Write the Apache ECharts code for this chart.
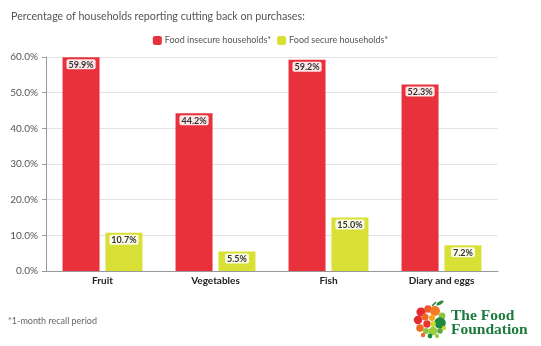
<!DOCTYPE html>
<html>
<head>
<meta charset="utf-8">
<script src="https://cdn.jsdelivr.net/npm/echarts@6/dist/echarts.min.js"></script>
<style>
  html, body { margin: 0; padding: 0; background: #fff; }
  #chart { width: 541px; height: 346px; }
</style>
</head>
<body>
<div id="chart"></div>
<script>
// Share of households cutting back on purchases, by food group
const categories = ['Fruit', 'Vegetables', 'Fish', 'Diary and eggs'];
const insecureValues = [59.9, 44.2, 59.2, 52.3];
const secureValues = [10.7, 5.5, 15.0, 7.2];
const seriesNames = ['Food insecure households*', 'Food secure households*'];
const yTicks = { min: 0, max: 60, interval: 10 };

const RED = '#E9313B';
const YELLOW = '#D9E035';
const FONT = 'Lato, "Noto Sans", sans-serif';

// apple-shaped logo built from dots: [x, y, r, colour]
const logoDots = [
  [-10, -8, 4.6, '#E42A2F'], [-3, -11, 3.8, '#EE5A2A'], [4, -9, 5, '#F47B26'],
  [11, -4, 3.4, '#8CC63F'], [-13, 0, 4.2, '#E42A2F'], [-6, -3, 3.6, '#F2662B'],
  [1, -2, 3, '#F7A21B'], [9, 3, 5.8, '#1E8A3D'], [-11, 8, 3.8, '#F26B21'],
  [-4, 4, 3.7, '#E8362F'], [2, 4, 2.8, '#C9D72E'], [-5, 11, 3, '#8CC63F'],
  [2, 11, 4.3, '#9CCB3B'], [9, 11, 2.8, '#5BAA46'], [-1, 16, 2.4, '#1E8A3D'],
  [6, 16, 2, '#8CC63F'], [-8, 15, 2.2, '#F26B21'], [13, 8, 2.2, '#C9D72E']
];

const labelStyle = {
  show: true,
  position: 'insideTop',
  distance: 2,
  formatter: p => p.value.toFixed(1) + '%',
  fontFamily: FONT,
  fontSize: 9,
  fontWeight: 'bold',
  color: '#333',
  backgroundColor: 'rgba(255,255,255,0.88)',
  borderRadius: 2,
  padding: [1, 2, 0, 2]
};

const chart = echarts.init(document.getElementById('chart'));
chart.setOption({
  animation: false,
  textStyle: { fontFamily: FONT },
  title: {
    text: 'Percentage of households reporting cutting back on purchases:',
    left: 6, top: 6,
    textStyle: { fontFamily: FONT, fontSize: 10.7, fontWeight: 'normal', color: '#555' }
  },
  legend: {
    data: seriesNames,
    top: 31, left: 'center',
    icon: 'roundRect',
    itemWidth: 9, itemHeight: 9, itemGap: 6,
    textStyle: { fontFamily: FONT, fontSize: 9, color: '#555', padding: [0, 0, 0, -2] }
  },
  grid: { left: 46, right: 43, top: 57, bottom: 75 },
  xAxis: {
    type: 'category',
    data: categories,
    axisLine: { lineStyle: { color: '#999' } },
    axisTick: { alignWithLabel: true, length: 4, lineStyle: { color: '#999' } },
    axisLabel: { fontFamily: FONT, fontSize: 10, fontWeight: 'bold', color: '#222', margin: 5 }
  },
  yAxis: {
    type: 'value',
    min: yTicks.min, max: yTicks.max, interval: yTicks.interval,
    axisLine: { show: true, lineStyle: { color: '#999' } },
    axisTick: { show: true, length: 4, lineStyle: { color: '#999' } },
    splitLine: { lineStyle: { color: '#e4e4e4' } },
    axisLabel: { fontFamily: FONT, fontSize: 10, color: '#555', margin: 8,
      formatter: v => v.toFixed(1) + '%' }
  },
  series: [
    { name: seriesNames[0], type: 'bar', data: insecureValues, barWidth: 37, barGap: '16%',
      itemStyle: { color: RED }, label: labelStyle },
    { name: seriesNames[1], type: 'bar', data: secureValues, barWidth: 37,
      itemStyle: { color: YELLOW }, label: labelStyle }
  ],
  graphic: [
    { type: 'text', left: 8, top: 317,
      style: { text: '*1-month recall period', fontFamily: FONT, fontSize: 9, fill: '#666' } },
    { type: 'group', x: 431, y: 320,
      children: logoDots.map(d => ({ type: 'circle', shape: { cx: d[0], cy: d[1], r: d[2] },
        style: { fill: d[3] } })).concat([
        { type: 'line', shape: { x1: 1, y1: -14, x2: 5, y2: -18 },
          style: { stroke: '#1E6B35', lineWidth: 1.2 } },
        { type: 'ellipse', shape: { cx: 9, cy: -17, rx: 4, ry: 1.6 },
          style: { fill: '#2E8B45' }, rotation: 0.5, originX: 9, originY: -17 }
      ]) },
    { type: 'text', left: 451, top: 308,
      style: { text: 'The Food\nFoundation', fontFamily: '"Liberation Serif", serif', fontSize: 15.5,
        fontWeight: 'bold', lineHeight: 13.5, fill: '#1E7A3C' } }
  ]
});
</script>
</body>
</html>
